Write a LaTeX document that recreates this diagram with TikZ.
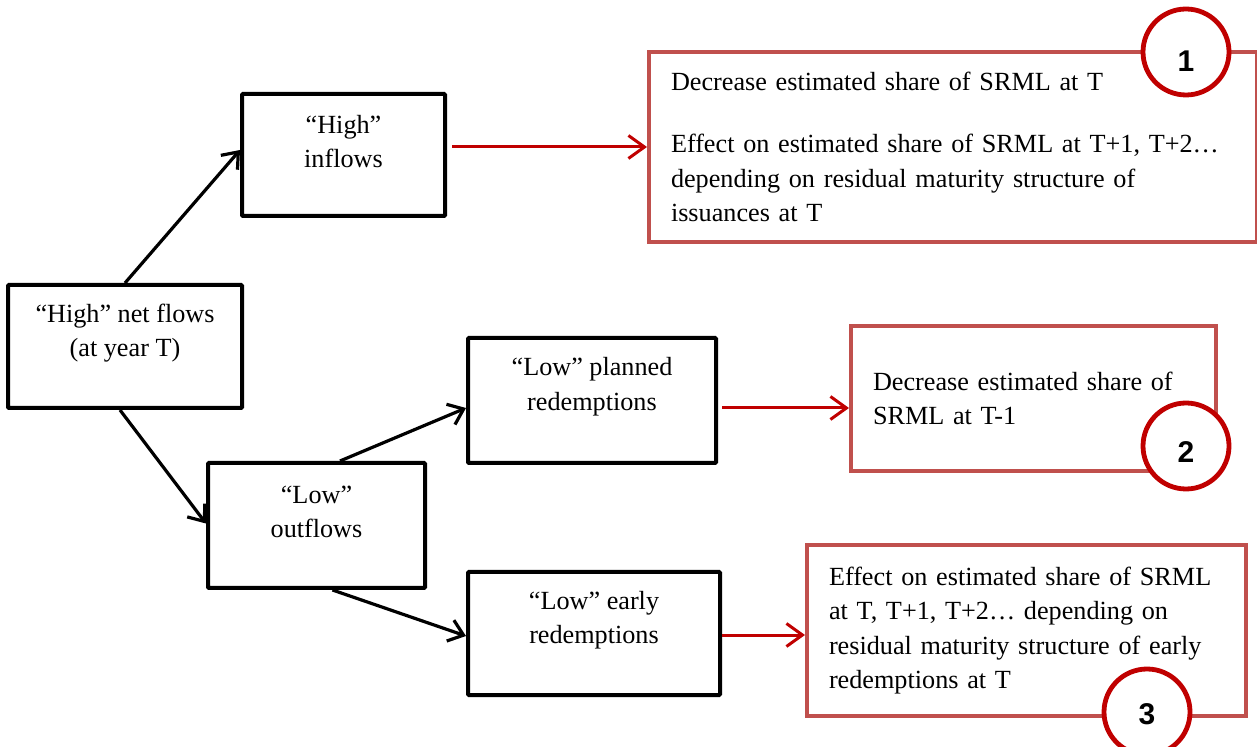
\documentclass[tikz,border=0pt]{standalone}
\usepackage{fontspec}
\setmainfont{Liberation Serif}
\newfontfamily\numfont{Liberation Sans}
\usetikzlibrary{positioning, arrows.meta}

\definecolor{boxred}{HTML}{C0504D}
\definecolor{darkred}{HTML}{C00000}

\tikzset{
  blk/.style={draw, line width=2pt, rounded corners=0.5pt},
  lbl/.style={align=center, yshift=6.75pt},
  redbox/.style={draw=boxred, line width=2pt, align=left, inner xsep=11pt},
  blkarrow/.style={line width=1.6pt, -{Straight Barb[length=7pt, width=11pt]}},
  redarrow/.style={darkred, line width=1.5pt, -{Straight Barb[length=8pt, width=11.5pt]}},
  badge/.style={circle, draw=darkred, line width=2.4pt, fill=white, minimum size=43pt, inner sep=0pt},
  num/.style={font=\numfont\bfseries\fontsize{15}{17}\selectfont}
}

\begin{document}
\begin{tikzpicture}[x=0.5pt, y=-0.5pt, font=\fontsize{13.1}{17.3}\selectfont]
    \useasboundingbox (0,0) rectangle (1257,747);
    % Flow boxes
    \node (net) [blk, minimum width=117pt, minimum height=61.5pt, label={[lbl]center:{“High” net flows\\(at year T)}}] at (125,346.5) {};
    \node (in) [blk, minimum width=101.5pt, minimum height=61pt, label={[lbl]center:{“High”\\inflows}}] at (343.5,155) {};
    \node (out) [blk, minimum width=108.5pt, minimum height=62.5pt, label={[lbl]center:{“Low”\\outflows}}] at (316.5,525.5) {};
    \node (plan) [blk, minimum width=124pt, minimum height=62.5pt, label={[lbl]center:{“Low” planned\\redemptions}}] at (592,400.5) {};
    \node (early) [blk, minimum width=126pt, minimum height=61.5pt, label={[lbl]center:{“Low” early\\redemptions}}] at (594,633.5) {};
    % Effect boxes
    \node (r1) [redbox, minimum width=304pt, minimum height=95pt, text width=282pt] at (953,147)
      {Decrease estimated share of SRML at T\\[14pt]Effect on estimated share of SRML at T+1, T+2…\\depending on residual maturity structure of\\issuances at T};
    \node (r2) [redbox, minimum width=182.5pt, minimum height=72.5pt, text width=160.5pt] at (1033.5,398.5)
      {Decrease estimated share of\\SRML at T-1};
    \node (r3) [redbox, minimum width=219.5pt, minimum height=85.5pt, text width=197.5pt] at (1026.5,630.5)
      {Effect on estimated share of SRML\\at T, T+1, T+2… depending on\\residual maturity structure of early\\redemptions at T};
    % Arrows
    \draw [blkarrow] (net.north) -- ([yshift=2.5pt]in.west);
    \draw [blkarrow] ([xshift=-2.5pt]net.south) -- ([yshift=1pt]out.west);
    \draw [blkarrow] ([xshift=11.75pt]out.north) -- ([yshift=-3.75pt]plan.west);
    \draw [blkarrow] ([xshift=8pt]out.south) -- ([yshift=-1.25pt]early.west);
    \draw [redarrow, shorten <=2.5pt] (in.east |- r1.west) -- (r1.west);
    \draw [redarrow, shorten <=2pt] ([yshift=-3.75pt]plan.east) -- ([yshift=-3.75pt]plan.east -| r2.west);
    \draw [redarrow] ([yshift=-0.75pt]early.east) -- ([yshift=-0.75pt]early.east -| r3.west);
    % Numbered badges
    \node (c1) [badge] at (1186,52) {};
    \node (n1) [num] at (1186,61) {1};
    \node (c2) [badge] at (1186,446) {};
    \begin{scope}
      \clip (1150,400) rectangle (1220,462);
      \node (n2) [num] at (1186,452) {2};
    \end{scope}
    \node (c3) [badge] at (1147,712) {};
    \begin{scope}
      \clip (1110,680) rectangle (1185,725);
      \node (n3) [num] at (1147,714) {3};
    \end{scope}
\end{tikzpicture}
\end{document}
